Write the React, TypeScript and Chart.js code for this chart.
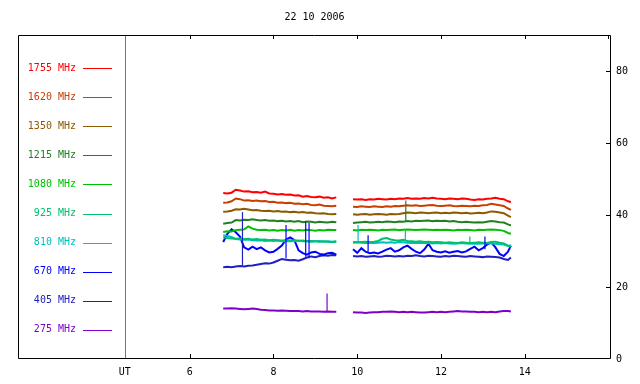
import React, { useEffect, useRef } from 'react';
import { Chart, registerables } from 'chart.js';

Chart.register(...registerables);

const TITLE = '22 10 2006';
const LABELS = ['1755 MHz', '1620 MHz', '1350 MHz', '1215 MHz', '1080 MHz', '925 MHz', '810 MHz', '670 MHz', '405 MHz', '275 MHz'];
const COLORS = ['#ff0000', '#c84000', '#8c5a00', '#228022', '#00c000', '#00c070', '#00c0c0', '#0000ff', '#2020c0', '#8000c8'];

const X_MIN = 1.9;
const X_MAX = 16.06;
const Y_MIN = 0;
const Y_MAX = 90;
const X_TICKS = [4.45, 6, 8, 10, 12, 14];
const X_TICK_LABELS = ['UT', '6', '8', '10', '12', '14'];
const TOP_TICKS = [6, 8, 10, 12, 14, 16];
const Y_TICKS = [0, 20, 40, 60, 80];
const UT_LINE = 4.45;
const GAP_TIME = 9.7;

// sample times (UT hours)
const T1 = [6.8, 6.9, 7.0, 7.1, 7.2, 7.3, 7.4, 7.5, 7.6, 7.7, 7.8, 7.9, 8.0, 8.1, 8.2, 8.3, 8.4, 8.5, 8.6, 8.7, 8.8, 8.9, 9.0, 9.1, 9.2, 9.3, 9.4, 9.5];
const T2 = [9.9, 10.0, 10.1, 10.2, 10.3, 10.4, 10.5, 10.6, 10.7, 10.8,
  10.9, 11.0, 11.1, 11.2, 11.3, 11.4, 11.5, 11.6, 11.7, 11.8,
  11.9, 12.0, 12.1, 12.2, 12.3, 12.4, 12.5, 12.6, 12.7, 12.8,
  12.9, 13.0, 13.1, 13.2, 13.3, 13.4, 13.5, 13.6, 13.67];

const S1755_A = [46.1, 46.0, 46.2, 47.0, 46.8, 46.5, 46.6, 46.3, 46.4, 46.2,
  46.5, 46.0, 45.9, 45.7, 45.8, 45.6, 45.7, 45.4, 45.5, 45.1,
  45.3, 45.0, 44.9, 45.1, 44.8, 44.9, 44.6, 44.9];
const S1755_B = [44.4, 44.3, 44.4, 44.2, 44.4, 44.3, 44.5, 44.4, 44.3, 44.5,
  44.4, 44.6, 44.5, 44.7, 44.5, 44.6, 44.5, 44.7, 44.6, 44.8,
  44.6, 44.5, 44.4, 44.6, 44.5, 44.4, 44.6, 44.5, 44.3, 44.2,
  44.4, 44.3, 44.5, 44.6, 44.8, 44.5, 44.4, 43.8, 43.6];

const S1620_A = [43.4, 43.5, 43.8, 44.6, 44.4, 44.0, 44.1, 43.9, 44.0, 43.8,
  43.9, 43.6, 43.7, 43.4, 43.5, 43.3, 43.4, 43.1, 43.2, 43.0,
  43.1, 42.8, 42.7, 42.9, 42.6, 42.5, 42.4, 42.6];
const S1620_B = [42.3, 42.2, 42.4, 42.3, 42.2, 42.4, 42.3, 42.2, 42.4, 42.3,
  42.5, 42.4, 42.6, 42.7, 42.6, 42.7, 42.5, 42.6, 42.7, 42.8,
  42.6, 42.5, 42.6, 42.7, 42.5, 42.4, 42.6, 42.5, 42.4, 42.6,
  42.5, 42.7, 42.8, 43.1, 42.9, 42.7, 42.5, 41.8, 41.4];

const S1350_A = [40.9, 41.0, 41.2, 41.6, 41.5, 41.7, 41.5, 41.3, 41.4, 41.2,
  41.1, 41.2, 41.0, 41.1, 40.9, 41.0, 40.8, 40.9, 40.7, 40.8,
  40.6, 40.7, 40.5, 40.4, 40.5, 40.3, 40.2, 40.3];
const S1350_B = [40.2, 40.1, 40.2, 40.3, 40.1, 40.2, 40.3, 40.2, 40.1, 40.3,
  40.2, 40.3, 40.5, 40.7, 40.6, 40.5, 40.7, 40.6, 40.5, 40.6,
  40.7, 40.5, 40.6, 40.5, 40.7, 40.6, 40.5, 40.6, 40.4, 40.5,
  40.6, 40.5, 40.7, 41.0, 40.9, 40.7, 40.5, 39.8, 39.4];

const S1215_A = [37.6, 37.8, 37.9, 38.6, 38.5, 38.7, 38.6, 38.8, 38.6, 38.5,
  38.6, 38.4, 38.5, 38.3, 38.4, 38.2, 38.3, 38.1, 38.3, 38.0,
  38.2, 38.1, 37.9, 38.1, 38.0, 37.9, 38.1, 38.0];
const S1215_B = [37.8, 37.9, 38.0, 38.1, 37.9, 38.0, 38.1, 38.0, 38.2, 38.1,
  38.0, 38.2, 38.1, 38.3, 38.2, 38.4, 38.3, 38.4, 38.5, 38.3,
  38.4, 38.3, 38.4, 38.2, 38.3, 38.1, 38.0, 38.1, 38.0, 37.9,
  38.0, 37.9, 38.1, 38.3, 38.2, 38.0, 37.9, 37.4, 37.1];

const S1080_A = [35.3, 35.5, 35.4, 35.8, 35.9, 36.0, 36.8, 36.2, 35.9, 35.8,
  35.9, 35.7, 35.8, 35.6, 35.8, 35.7, 35.9, 35.6, 35.8, 35.7,
  35.9, 35.8, 35.6, 35.8, 35.7, 35.9, 35.8, 35.8];
const S1080_B = [35.8, 35.7, 35.9, 35.8, 35.9, 35.8, 35.7, 35.9, 35.8, 35.9,
  36.0, 35.8, 35.9, 36.0, 35.9, 35.8, 35.9, 36.0, 35.9, 35.8,
  35.9, 35.8, 35.9, 35.8, 35.7, 35.9, 35.8, 35.9, 35.8, 35.7,
  35.9, 35.8, 35.9, 36.0, 35.9, 35.8, 35.6, 35.0, 34.8];

const S925_A = [33.8, 33.6, 33.5, 33.4, 33.5, 33.3, 33.4, 33.2, 33.3, 33.1,
  33.2, 33.0, 33.1, 33.0, 32.9, 33.0, 32.9, 33.0, 32.8, 32.9,
  32.7, 32.8, 32.7, 32.6, 32.7, 32.6, 32.5, 32.6];
const S925_B = [32.5, 32.4, 32.5, 32.6, 32.5, 32.6, 32.8, 33.4, 33.6, 33.2,
  33.0, 32.9, 33.1, 32.8, 32.7, 32.6, 32.7, 32.5, 32.6, 32.4,
  32.5, 32.4, 32.3, 32.4, 32.3, 32.2, 32.4, 32.3, 32.2, 32.3,
  32.4, 32.3, 32.2, 32.5, 32.6, 32.3, 32.1, 31.5, 31.2];

const S810_A = [34.4, 34.2, 33.9, 33.3, 33.2, 33.1, 33.2, 33.0, 32.9, 33.0,
  32.8, 32.9, 32.8, 32.9, 32.7, 32.8, 32.7, 32.8, 32.9, 32.7,
  32.8, 32.6, 32.7, 32.8, 32.6, 32.7, 32.6, 32.7];
const S810_B = [32.3, 32.4, 32.3, 32.2, 32.3, 32.2, 32.3, 32.4, 32.3, 32.4,
  32.3, 32.5, 32.4, 32.3, 32.2, 32.3, 32.2, 32.3, 32.2, 32.1,
  32.2, 32.1, 32.2, 32.1, 32.0, 32.1, 32.2, 32.1, 32.0, 32.1,
  32.0, 32.1, 32.2, 32.1, 32.0, 31.9, 31.8, 31.4, 31.6];

const S670_A = [32.5, 34.8, 36.0, 35.2, 34.0, 31.0, 30.4, 31.2, 30.5, 31.0,
  30.2, 29.6, 29.8, 30.6, 31.5, 33.2, 33.8, 33.0, 30.2, 29.4,
  29.0, 29.6, 29.8, 29.2, 29.0, 29.4, 29.5, 29.0];
const S670_B = [30.5, 29.5, 30.8, 29.8, 29.4, 29.6, 29.3, 29.8, 30.4, 30.8,
  29.8, 30.2, 31.0, 31.5, 30.6, 29.8, 29.4, 30.4, 32.0, 30.2,
  29.8, 29.6, 29.9, 29.5, 29.8, 30.0, 29.6, 29.9, 30.6, 31.2,
  30.2, 30.8, 31.8, 32.4, 31.0, 29.2, 28.6, 29.8, 31.5];

const S405_A = [25.5, 25.6, 25.5, 25.7, 25.8, 25.7, 25.9, 26.0, 26.2, 26.4,
  26.6, 26.5, 26.8, 27.3, 27.8, 27.6, 27.4, 27.5, 27.3, 27.7,
  28.2, 28.5, 28.3, 28.6, 28.8, 28.7, 28.9, 28.8];
const S405_B = [28.6, 28.5, 28.6, 28.4, 28.5, 28.6, 28.4, 28.5, 28.7, 28.6,
  28.5, 28.6, 28.5, 28.7, 28.6, 28.8, 28.6, 28.5, 28.7, 28.6,
  28.5, 28.4, 28.6, 28.5, 28.7, 28.6, 28.5, 28.4, 28.6, 28.5,
  28.4, 28.3, 28.5, 28.4, 28.3, 28.2, 27.8, 27.5, 28.2];

const S275_A = [14.0, 14.0, 14.1, 14.0, 13.9, 13.8, 13.9, 14.0, 13.9, 13.7,
  13.6, 13.5, 13.5, 13.4, 13.5, 13.4, 13.3, 13.3, 13.3, 13.2,
  13.3, 13.2, 13.2, 13.2, 13.1, 13.2, 13.1, 13.1];
const S275_B = [13.0, 12.9, 12.9, 12.8, 12.9, 13.0, 13.0, 13.1, 13.1, 13.2,
  13.1, 13.0, 13.1, 13.0, 13.1, 13.0, 12.9, 12.9, 13.0, 13.1,
  13.0, 13.1, 13.0, 13.1, 13.2, 13.3, 13.2, 13.2, 13.1, 13.1,
  13.0, 13.1, 13.0, 13.1, 13.0, 13.2, 13.3, 13.3, 13.2];

// short bursts (vertical spikes): series index, time, low, high
const SPIKE_SERIES = [8, 7, 7, 7, 9, 6, 7, 6, 3, 5, 7];
const SPIKE_TIME = [7.26, 8.3, 8.77, 8.85, 9.28, 10.02, 10.26, 11.15, 11.16, 12.69, 13.05];
const SPIKE_LOW = [25.9, 28.0, 28.4, 28.0, 13.1, 32.6, 29.8, 32.6, 38.1, 32.3, 30.5];
const SPIKE_HIGH = [40.8, 37.2, 38.1, 37.8, 18.2, 37.2, 34.4, 35.8, 44.0, 34.0, 34.0];

const SERIES_A = [S1755_A, S1620_A, S1350_A, S1215_A, S1080_A, S925_A, S810_A, S670_A, S405_A, S275_A];
const SERIES_B = [S1755_B, S1620_B, S1350_B, S1215_B, S1080_B, S925_B, S810_B, S670_B, S405_B, S275_B];

const MONO = '"DejaVu Sans Mono", monospace';

const framePlugin = {
  id: 'frame',
  afterDraw(chart: any) {
    const { ctx, chartArea } = chart;
    const xs = chart.scales.x;
    const ys = chart.scales.y;
    const { left, right, top, bottom } = chartArea;
    ctx.save();
    const ux = Math.round(xs.getPixelForValue(UT_LINE)) + 0.5;
    ctx.strokeStyle = '#777777';
    ctx.lineWidth = 1;
    ctx.beginPath();
    ctx.moveTo(ux, top);
    ctx.lineTo(ux, bottom);
    ctx.stroke();
    ctx.strokeStyle = '#000000';
    ctx.beginPath();
    ctx.rect(Math.round(left) + 0.5, Math.round(top) + 0.5, Math.round(right - left) - 1, Math.round(bottom - top) - 1);
    ctx.stroke();
    ctx.beginPath();
    for (let i = 1; i < X_TICKS.length; i++) {
      const px = Math.round(xs.getPixelForValue(X_TICKS[i])) + 0.5;
      ctx.moveTo(px, bottom - 1);
      ctx.lineTo(px, bottom - 5);
    }
    for (const t of TOP_TICKS) {
      const px = Math.round(xs.getPixelForValue(t)) + 0.5;
      ctx.moveTo(px, top);
      ctx.lineTo(px, top + 4);
    }
    for (const v of Y_TICKS) {
      if (v === 0) continue;
      const py = Math.round(ys.getPixelForValue(v)) + 0.5;
      ctx.moveTo(right - 1, py);
      ctx.lineTo(right - 5, py);
    }
    ctx.stroke();
    ctx.fillStyle = '#000000';
    ctx.font = '10px ' + MONO;
    ctx.textAlign = 'center';
    ctx.textBaseline = 'middle';
    ctx.fillText(TITLE, (left + right) / 2, 17);
    ctx.textAlign = 'right';
    for (let i = 0; i < LABELS.length; i++) {
      const y = 68 + i * 29.1;
      ctx.fillStyle = COLORS[i];
      ctx.fillText(LABELS[i], 76, y);
      ctx.strokeStyle = COLORS[i];
      ctx.beginPath();
      const ly = Math.round(y) + 0.5;
      ctx.moveTo(83, ly);
      ctx.lineTo(112, ly);
      ctx.stroke();
    }
    ctx.restore();
  },
};

export default function App() {
  const ref = useRef<HTMLCanvasElement | null>(null);

  useEffect(() => {
    if (!ref.current) return;
    const lineSets = LABELS.map((lab, i) => ({
      label: lab,
      data: [
        ...T1.map((t, j) => ({ x: t, y: SERIES_A[i][j] })),
        { x: GAP_TIME, y: null },
        ...T2.map((t, j) => ({ x: t, y: SERIES_B[i][j] })),
      ],
      borderColor: COLORS[i],
      borderWidth: 2,
      pointRadius: 0,
      tension: 0,
      spanGaps: false,
      fill: false,
    }));
    const spikeSets = SPIKE_TIME.map((t, k) => ({
      label: 'spike' + k,
      data: [{ x: t, y: SPIKE_LOW[k] }, { x: t, y: SPIKE_HIGH[k] }],
      borderColor: COLORS[SPIKE_SERIES[k]],
      borderWidth: 1.2,
      pointRadius: 0,
      fill: false,
    }));
    const chart = new Chart(ref.current, {
      type: 'line',
      data: { datasets: [...spikeSets, ...lineSets] as any },
      options: {
        responsive: false,
        animation: false,
        events: [],
        layout: { padding: { left: 18, top: 35, right: 0, bottom: 0 } },
        plugins: { legend: { display: false }, tooltip: { enabled: false }, title: { display: false } },
        scales: {
          x: {
            type: 'linear',
            min: X_MIN,
            max: X_MAX,
            position: 'bottom',
            grid: { display: false, drawTicks: false },
            border: { display: false },
            afterBuildTicks: (s: any) => { s.ticks = X_TICKS.map((v) => ({ value: v })); },
            afterFit: (s: any) => { s.height = 25; },
            ticks: {
              autoSkip: false,
              maxRotation: 0,
              padding: 7,
              color: '#000000',
              font: { family: MONO, size: 10 },
              callback: (_v: any, i: number) => X_TICK_LABELS[i],
            },
          },
          y: {
            type: 'linear',
            min: Y_MIN,
            max: Y_MAX,
            position: 'right',
            grid: { display: false, drawTicks: false },
            border: { display: false },
            afterBuildTicks: (s: any) => { s.ticks = Y_TICKS.map((v) => ({ value: v })); },
            afterFit: (s: any) => { s.width = 29; },
            ticks: {
              padding: 5,
              color: '#000000',
              font: { family: MONO, size: 10 },
              callback: (v: any) => String(v),
            },
          },
        },
      },
      plugins: [framePlugin],
    });
    return () => chart.destroy();
  }, []);

  return (
    <div style={{ position: 'fixed', left: 0, top: 0, width: 640, height: 384, background: '#ffffff' }}>
      <canvas ref={ref} width={640} height={384} style={{ display: 'block' }} />
    </div>
  );
}
